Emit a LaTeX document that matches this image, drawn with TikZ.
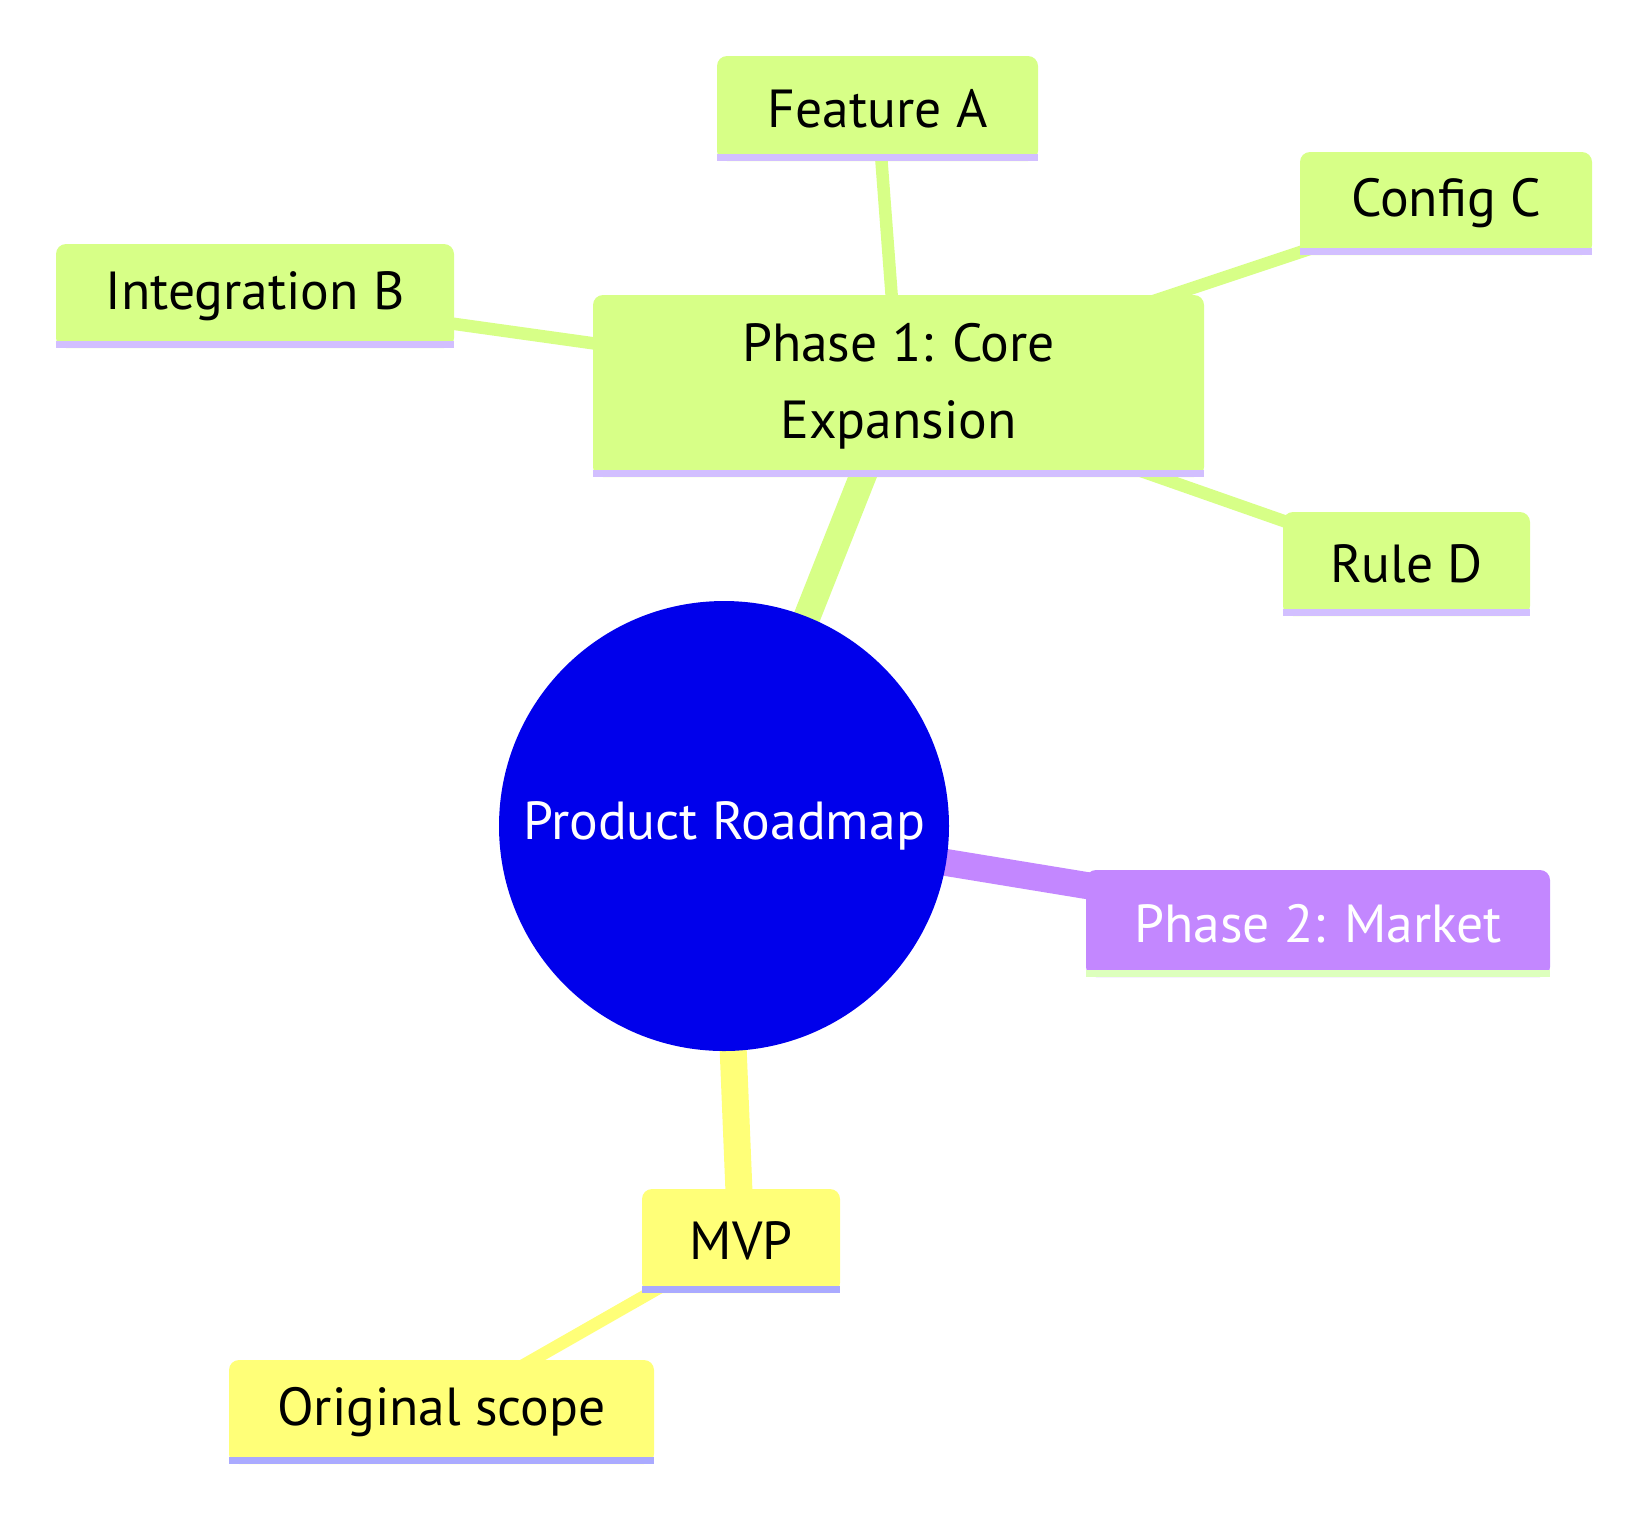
\documentclass[tikz,border=0pt]{standalone}
\usepackage{fontspec}
\setmainfont{PT Sans}
\usetikzlibrary{backgrounds}

\definecolor{rootblue}{HTML}{0000EB}
\definecolor{secyellow}{HTML}{FFFF78}
\definecolor{secgreen}{HTML}{D7FF87}
\definecolor{secpurple}{HTML}{C387FF}
\definecolor{ulyellow}{HTML}{AAAAFF}
\definecolor{ulgreen}{HTML}{D2BFFF}
\definecolor{ulpurple}{HTML}{DDFFBD}

\tikzset{
    mmfont/.style={font=\fontsize{26.8}{38.5}\selectfont},
    box/.style={mmfont, rounded corners=5pt, inner sep=0pt, align=center},
    trunk/.style={line width=13.5pt},
    branch/.style={line width=6.25pt}
}

\begin{document}
\begin{tikzpicture}[x=0.5pt, y=-0.5pt]
    \useasboundingbox (0,0) rectangle (1648,1517);

    % root
    \node[circle, mmfont, fill=rootblue, text=white, minimum size=225pt, inner sep=0pt]
        (root) at (724,826) {Product Roadmap};

    % phase 1 and its children
    \node[box, fill=secgreen, minimum width=305.5pt, minimum height=91pt]
        (core) at (898.5,386) {Phase 1: Core\\Expansion};
    \node[box, fill=secgreen, minimum width=160.5pt, minimum height=52.5pt]
        (feata) at (877.5,108.5) {Feature A};
    \node[box, fill=secgreen, minimum width=146pt, minimum height=51.5pt]
        (configc) at (1446,203.5) {Config C};
    \node[box, fill=secgreen, minimum width=199pt, minimum height=52pt]
        (integb) at (255,296) {Integration B};
    \node[box, fill=secgreen, minimum width=123.5pt, minimum height=52pt]
        (ruled) at (1406.5,564) {Rule D};

    % phase 2
    \node[box, fill=secpurple, text=white, minimum width=232pt, minimum height=53.5pt]
        (market) at (1318,923.5) {Phase 2: Market};

    % mvp
    \node[box, fill=secyellow, minimum width=99pt, minimum height=52pt]
        (mvp) at (741,1241) {MVP};
    \node[box, fill=secyellow, minimum width=212.5pt, minimum height=52pt]
        (scope) at (441.5,1412) {Original scope};

    % underlines
    \foreach \n/\c in {core/ulgreen, feata/ulgreen, configc/ulgreen, integb/ulgreen,
                       ruled/ulgreen, market/ulpurple, mvp/ulyellow, scope/ulyellow}
        \fill[\c] ([yshift=3.5pt]\n.south west) rectangle (\n.south east);

    % edges
    \begin{scope}[on background layer]
        \draw[trunk, secgreen] (root.center) -- (core.center);
        \draw[trunk, secpurple] (root.center) -- (market.center);
        \draw[trunk, secyellow] (root.center) -- (mvp.center);
        \draw[branch, secgreen] (core.center) -- (feata.center);
        \draw[branch, secgreen] (core.center) -- (configc.center);
        \draw[branch, secgreen] (core.center) -- (integb.center);
        \draw[branch, secgreen] (core.center) -- (ruled.center);
        \draw[branch, secyellow] (mvp.center) -- (scope.center);
    \end{scope}
\end{tikzpicture}
\end{document}
